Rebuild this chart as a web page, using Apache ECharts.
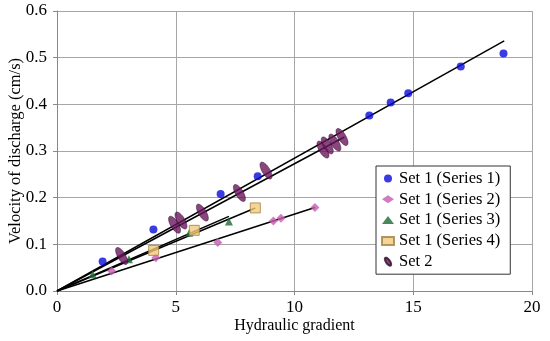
<!DOCTYPE html>
<html>
<head>
<meta charset="utf-8">
<script src="https://cdn.jsdelivr.net/npm/echarts@6/dist/echarts.min.js"></script>
<style>html,body{margin:0;padding:0;background:#fff;}#c{width:550px;height:341px;}</style>
</head>
<body>
<div id="c"></div>
<script>
const xTicks = [0, 5, 10, 15, 20];
const yTicks = [0.0, 0.1, 0.2, 0.3, 0.4, 0.5, 0.6];
const series1 = [[1.92,0.063],[4.06,0.132],[6.89,0.208],[8.45,0.246],[13.15,0.376],[14.05,0.404],[14.79,0.424],[17.0,0.481],[18.8,0.509]];
const series2 = [[2.30,0.043],[4.16,0.071],[6.77,0.104],[9.11,0.150],[9.43,0.156],[10.86,0.179]];
const series3 = [[1.50,0.036],[3.03,0.068],[5.57,0.125],[7.24,0.149]];
const series4 = [[4.07,0.087],[5.78,0.130],[8.35,0.178]];
const set2 = [[2.72,0.075],[4.95,0.142],[5.22,0.151],[6.12,0.168],[7.68,0.210],[8.8,0.258],[11.2,0.303],[11.38,0.312],[11.7,0.318],[12.0,0.330]];
const fitLine1 = [[0,0],[18.83,0.536]];
const fitLineSet2 = [[0,0],[12.1,0.330]];
const fitLine2 = [[0,0],[10.86,0.179]];
const fitLine3 = [[0,0],[7.24,0.160]];
const fitLine4 = [[0,0],[8.35,0.178]];
const names = ['Set 1 (Series 1)','Set 1 (Series 2)','Set 1 (Series 3)','Set 1 (Series 4)','Set 2'];

const font = 'Liberation Serif, Times New Roman, serif';
// tilted ellipse symbol shape
function ellipsePath(a, b, deg){
  const phi = deg*Math.PI/180, pts=[];
  for(let i=0;i<48;i++){
    const t=i/48*2*Math.PI;
    const x=a*Math.cos(t)*Math.cos(phi)-b*Math.sin(t)*Math.sin(phi);
    const y=a*Math.cos(t)*Math.sin(phi)+b*Math.sin(t)*Math.cos(phi);
    pts.push((i?'L':'M')+x.toFixed(3)+','+y.toFixed(3));
  }
  return 'path://'+pts.join('')+'Z';
}
const ellipse = ellipsePath(10,4.2,55);
function fit(d){return {type:'line',data:d,symbol:'none',silent:true,lineStyle:{color:'#000',width:1.5},z:1,legendHoverLink:false};}
const chart = echarts.init(document.getElementById('c'));
chart.setOption({
  animation:false,
  textStyle:{fontFamily:font},
  grid:{left:57,right:18,top:11,bottom:50,containLabel:false,outerBoundsMode:'none'},
  xAxis:{type:'value',min:0,max:20,interval:5,
    name:'Hydraulic gradient',nameLocation:'middle',nameGap:27,nameMoveOverlap:false,
    nameTextStyle:{fontFamily:font,fontSize:16,color:'#000'},
    axisLine:{show:true,lineStyle:{color:'#888'}},
    axisTick:{show:true,length:4,lineStyle:{color:'#888'}},
    axisLabel:{fontFamily:font,fontSize:17,color:'#000',margin:8},
    splitLine:{show:true,lineStyle:{color:'#a6a6a6'}}},
  yAxis:{type:'value',min:0,max:0.6,interval:0.1,
    name:'Velocity of discharge (cm/s)',nameLocation:'middle',nameGap:33,nameMoveOverlap:false,
    nameTextStyle:{fontFamily:font,fontSize:16.5,color:'#000'},
    axisLine:{show:true,lineStyle:{color:'#888'}},
    axisTick:{show:true,length:4,lineStyle:{color:'#888'}},
    axisLabel:{fontFamily:font,fontSize:17,color:'#000',margin:10,formatter:v=>v.toFixed(1)},
    splitLine:{show:true,lineStyle:{color:'#a6a6a6'}}},
  legend:{data:names,orient:'vertical',left:376,top:166,
    backgroundColor:'#fff',borderColor:'#333',borderWidth:1,borderRadius:0,
    padding:[4,10,4,5],itemGap:3.8,itemWidth:12,itemHeight:8,
    textStyle:{fontFamily:font,fontSize:16.5,color:'#000'}},
  series:[
    fit(fitLine1),fit(fitLineSet2),fit(fitLine2),fit(fitLine3),fit(fitLine4),
    {name:names[0],type:'scatter',data:series1,symbol:'circle',symbolSize:8,itemStyle:{color:'#0a0adc'},z:3},
    {name:names[1],type:'scatter',data:series2,symbol:'diamond',symbolSize:9,itemStyle:{color:'#c65bb0'},z:3},
    {name:names[2],type:'scatter',data:series3,symbol:'triangle',symbolSize:8,itemStyle:{color:'#1d6a33'},z:3},
    {name:names[3],type:'scatter',data:series4,symbol:'rect',symbolSize:10,itemStyle:{color:'#f2cb7c',borderColor:'#a08040',borderWidth:1},z:3},
    {name:names[4],type:'scatter',data:set2,symbol:ellipse,symbolSize:[12,17],itemStyle:{color:'#6a165e',borderColor:'#2a0a25',borderWidth:0.6},z:4}
  ]
});
</script>
</body>
</html>
